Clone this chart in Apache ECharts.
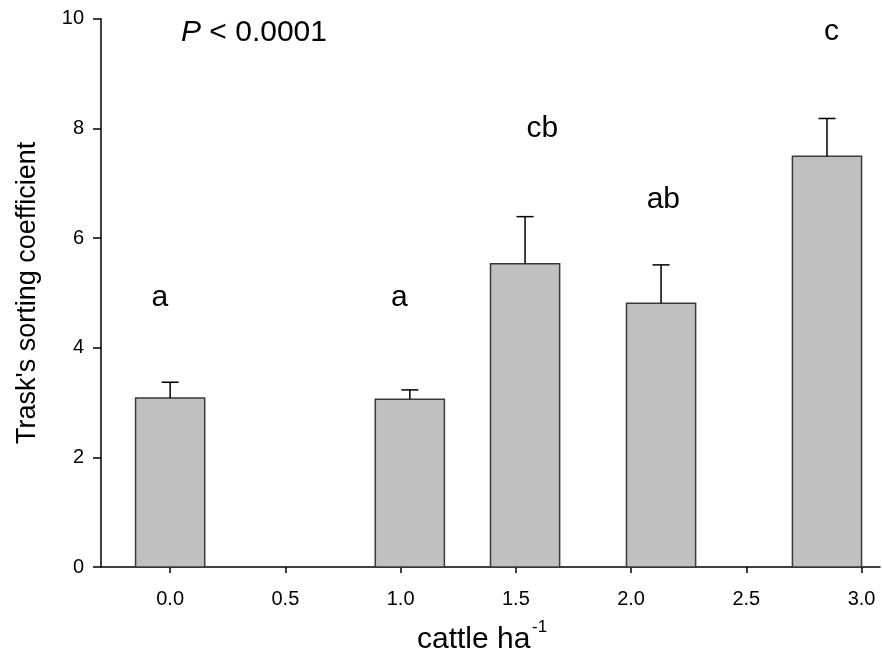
<!DOCTYPE html>
<html><head><meta charset="utf-8">
<script src="https://cdn.jsdelivr.net/npm/echarts@6/dist/echarts.min.js"></script>
<style>html,body{margin:0;padding:0;background:#fff}#c{width:882px;height:657px}</style>
</head><body><div id="c"></div>
<script>
// Data
const cattle = [0.0, 1.04, 1.54, 2.13, 2.85];
const trask = [3.08, 3.06, 5.53, 4.81, 7.49];
const errorUp = [0.29, 0.17, 0.86, 0.70, 0.69];
const letters = ['a', 'a', 'cb', 'ab', 'c'];
const letterX = [-0.045, 0.995, 1.615, 2.14, 2.87];
const letterY = [4.92, 4.92, 7.99, 6.69, 9.76];
const xTicks = [0, 0.5, 1.0, 1.5, 2.0, 2.5, 3.0];
const yTicks = [0, 2, 4, 6, 8, 10];

const FONT = '"Liberation Sans", Arial, Helvetica, sans-serif';
const chart = echarts.init(document.getElementById('c'), null, {renderer: 'canvas'});

const barData = cattle.map((x, i) => [x, trask[i], errorUp[i]]);
const letterData = letterX.map((x, i) => [x, letterY[i]]);

function renderBar(params, api) {
  const x = api.value(0), y = api.value(1), e = api.value(2);
  const base = api.coord([x, 0]);
  const top = api.coord([x, y]);
  const et = api.coord([x, y + e]);
  const w = api.size([0.3, 0])[0];
  const cap = api.size([0.074, 0])[0];
  return {
    type: 'group',
    children: [
      {type: 'rect', shape: {x: base[0] - w / 2, y: top[1], width: w, height: base[1] - top[1]},
        style: {fill: '#c0c0c0', stroke: '#3a3a3a', lineWidth: 1.5}},
      {type: 'line', shape: {x1: top[0], y1: top[1], x2: et[0], y2: et[1]},
        style: {stroke: '#000', lineWidth: 1.5}},
      {type: 'line', shape: {x1: et[0] - cap / 2, y1: et[1], x2: et[0] + cap / 2, y2: et[1]},
        style: {stroke: '#000', lineWidth: 1.5}}
    ]
  };
}

function renderLetter(params, api) {
  const p = api.coord([api.value(0), api.value(1)]);
  return {
    type: 'text', x: p[0], y: p[1],
    style: {text: letters[params.dataIndex], fontSize: 30, fontFamily: FONT, fill: '#000',
      align: 'center', verticalAlign: 'middle'}
  };
}

const option = {
  animation: false,
  backgroundColor: '#fff',
  grid: {left: 101, right: 2, top: 18.7, bottom: 90, containLabel: false, outerBoundsMode: 'none'},
  xAxis: {
    type: 'value', min: -0.3, max: 3.08,
    axisLine: {show: true, onZero: false, lineStyle: {color: '#000', width: 1.5}},
    axisTick: {show: true, length: 6, inside: false, customValues: xTicks, lineStyle: {color: '#000', width: 1.5}},
    axisLabel: {show: true, customValues: xTicks, formatter: v => Number(v).toFixed(1),
      fontSize: 20, fontFamily: FONT, color: '#000', margin: 22},
    splitLine: {show: false}
  },
  yAxis: {
    type: 'value', min: 0, max: 10, interval: 2,
    name: "Trask's sorting coefficient", nameLocation: 'middle', nameGap: 60, nameRotate: 90,
    nameTextStyle: {fontSize: 27, fontFamily: FONT, color: '#000'},
    axisLine: {show: true, onZero: false, lineStyle: {color: '#000', width: 1.5}},
    axisTick: {show: true, length: 8, inside: false, customValues: yTicks, lineStyle: {color: '#000', width: 1.5}},
    axisLabel: {show: true, customValues: yTicks, fontSize: 20, fontFamily: FONT, color: '#000', margin: 17},
    splitLine: {show: false}
  },
  graphic: [
    {type: 'text', left: 181, top: 18,
      style: {text: '{i|P}{n| < 0.0001}', fill: '#000',
        rich: {i: {fontSize: 30, fontFamily: FONT, fontStyle: 'italic', fill: '#000'},
               n: {fontSize: 30, fontFamily: FONT, fill: '#000'}}}},
    {type: 'text', x: 417, y: 640,
      style: {text: 'cattle ha', fontSize: 30, fontFamily: FONT, fill: '#000', align: 'left', verticalAlign: 'middle'}},
    {type: 'text', x: 532, y: 627,
      style: {text: '-1', fontSize: 17, fontFamily: FONT, fill: '#000', align: 'left', verticalAlign: 'middle'}}
  ],
  series: [
    {type: 'custom', renderItem: renderBar, data: barData, clip: false, z: 2},
    {type: 'custom', renderItem: renderLetter, data: letterData, clip: false, z: 3}
  ]
};
chart.setOption(option);
</script>
</body></html>
